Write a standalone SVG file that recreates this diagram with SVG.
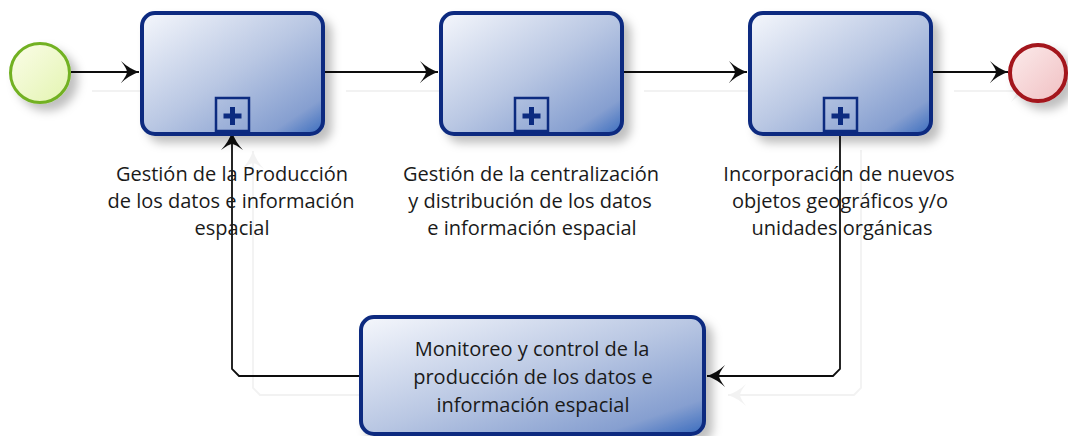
<svg xmlns="http://www.w3.org/2000/svg" width="1068" height="436" viewBox="0 0 1068 436">
<style>
.task{stroke:#0c2b80;stroke-width:4;fill:url(#gTask)}
.mk{fill:none;stroke:#0c2b80;stroke-width:2.5}
.plus{fill:#0c2b80}
.lbl{font-family:"Open Sans","Liberation Sans",sans-serif;font-size:20px;fill:#1a1a1a;text-anchor:middle}
.con{fill:none;stroke:#111;stroke-width:1.8}
</style>
<defs>
<linearGradient id="gTask" x1="0" y1="0" x2="1" y2="1">
<stop offset="0" stop-color="#f5f7fc"/>
<stop offset="0.5" stop-color="#b9c7e3"/>
<stop offset="0.85" stop-color="#869fd0"/>
<stop offset="1" stop-color="#3a6cbe"/>
</linearGradient>
<linearGradient id="gStart" x1="0" y1="0" x2="1" y2="1">
<stop offset="0" stop-color="#fbfde9"/>
<stop offset="1" stop-color="#e3f4b0"/>
</linearGradient>
<linearGradient id="gEnd" x1="0" y1="0" x2="1" y2="1">
<stop offset="0" stop-color="#fcecec"/>
<stop offset="1" stop-color="#f0bfc2"/>
</linearGradient>
<filter id="sh" x="-20%" y="-20%" width="150%" height="160%">
<feDropShadow dx="7" dy="7" stdDeviation="5" flood-color="#000" flood-opacity="0.25"/>
</filter>
<filter id="csh" x="-10%" y="-10%" width="130%" height="130%">
<feDropShadow dx="21" dy="19" stdDeviation="0.6" flood-color="#000" flood-opacity="0.05"/>
</filter>
<marker id="arr" markerUnits="userSpaceOnUse" markerWidth="22" markerHeight="24" viewBox="0 0 22 24" refX="20" refY="12" orient="auto">
<path d="M20 12 Q10 8.5 2 1 Q8 9 8 12 Q8 15 2 23 Q10 15.5 20 12 Z" fill="#111"/>
</marker>
</defs>

<g id="connectors" filter="url(#csh)">
<path class="con" d="M71 72 H139" marker-end="url(#arr)"/>
<path class="con" d="M325 72 H438" marker-end="url(#arr)"/>
<path class="con" d="M623 72 H747" marker-end="url(#arr)"/>
<path class="con" d="M933 72 H1008" marker-end="url(#arr)"/>
<path class="con" d="M840 131 V369 L833 376 H707" marker-end="url(#arr)"/>
<path class="con" d="M359 376 H239 L232 369 V132" marker-end="url(#arr)"/>
</g>

<g id="start">
<circle cx="40" cy="73" r="29.5" fill="url(#gStart)" stroke="#72b124" stroke-width="3" filter="url(#sh)"/>
</g>

<g id="task1">
<rect class="task" x="142" y="13" width="181" height="121" rx="13" filter="url(#sh)"/>
<rect class="mk" x="216" y="98" width="33" height="33"/>
<path class="plus" d="M230 107 h5 v6.5 h6.5 v5 h-6.5 v6.5 h-5 v-6.5 h-6.5 v-5 h6.5 Z"/>
<text class="lbl" x="232" y="181">Gestión de la Producción</text>
<text class="lbl" x="231" y="208">de los datos e información</text>
<text class="lbl" x="232" y="235">espacial</text>
</g>

<g id="task2">
<rect class="task" x="441" y="13" width="181" height="121" rx="13" filter="url(#sh)"/>
<rect class="mk" x="515" y="98" width="33" height="33"/>
<path class="plus" d="M529 107 h5 v6.5 h6.5 v5 h-6.5 v6.5 h-5 v-6.5 h-6.5 v-5 h6.5 Z"/>
<text class="lbl" x="531" y="181">Gestión de la centralización</text>
<text class="lbl" x="530" y="208">y distribución de los datos</text>
<text class="lbl" x="532" y="235">e información espacial</text>
</g>

<g id="task3">
<rect class="task" x="750" y="13" width="181" height="121" rx="13" filter="url(#sh)"/>
<rect class="mk" x="824" y="98" width="33" height="33"/>
<path class="plus" d="M838 107 h5 v6.5 h6.5 v5 h-6.5 v6.5 h-5 v-6.5 h-6.5 v-5 h6.5 Z"/>
<text class="lbl" x="839" y="181">Incorporación de nuevos</text>
<text class="lbl" x="840" y="208">objetos geográficos y/o</text>
<text class="lbl" x="842" y="235">unidades orgánicas</text>
</g>

<g id="end">
<circle cx="1038" cy="73" r="28" fill="url(#gEnd)" stroke="#a3121a" stroke-width="4" filter="url(#sh)"/>
</g>

<g id="task4">
<rect class="task" x="361" y="317" width="343" height="117" rx="13" stroke-width="3.5" filter="url(#sh)"/>
<text class="lbl" x="532" y="356">Monitoreo y control de la</text>
<text class="lbl" x="533" y="384">producción de los datos e</text>
<text class="lbl" x="533" y="412">información espacial</text>
</g>
</svg>
